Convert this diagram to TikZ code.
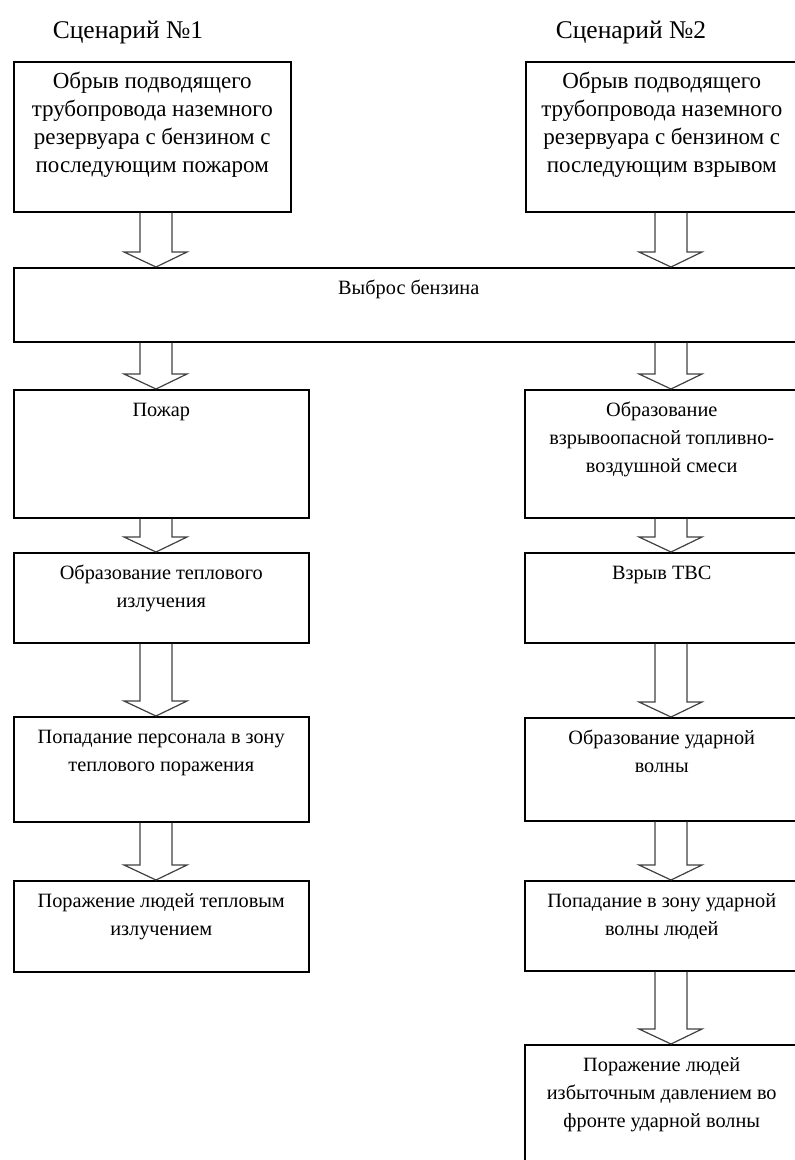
\documentclass[tikz,border=0pt]{standalone}
\usepackage{fontspec}
\setmainfont{Liberation Serif}
\usetikzlibrary{calc}

\newcommand{\boxtext}[4][0]{\parbox[c][#3pt][t]{#2pt}{\centering\rule{0pt}{27pt}#4}\hspace*{#1pt}}
\newcommand{\flowarrow}[3]{%
\draw[flowarr] let \p1=(#1.south -| #3), \p2=(#2.north -| #3) in
 (\x1-16pt,\y1) -- (\x1-16pt,\y2+15pt) -- (\x1-32pt,\y2+15pt) -- (\x2,\y2)
 -- (\x1+31pt,\y2+15pt) -- (\x1+16pt,\y2+15pt) -- (\x1+16pt,\y1);}

\begin{document}
\begin{tikzpicture} [x = 1pt, y = -1pt,
 every node/.style = {font = \fontsize{20.3}{28}\selectfont},
 lead/.style = {font = \fontsize{23}{28}\selectfont},
 title/.style = {font = \fontsize{25.5}{30}\selectfont},
 box/.style = {draw, line width = 1.5pt, inner sep = 0pt, anchor = north west},
 flowarr/.style = {draw = black!75, line width = 1.2pt}]
\useasboundingbox (0, 0) rectangle (795, 1160);
\clip (0, 0) rectangle (795, 1160);
\coordinate (axisL) at (156, 0);
\coordinate (axisR) at (671, 0);
\node[title] (titleOne) at (128, 32){Сценарий №1};
\node[title] (titleTwo) at (631, 32){Сценарий №2};
\node[box, lead] (breakFire) at (13, 61){\boxtext{277}{150}{\rule{0pt}{2pt}Обрыв подводящего\\трубопровода наземного\\резервуара с бензином с\\последующим пожаром}};
\node[box, lead] (breakBlast) at (525, 61){\boxtext[40]{272}{150}{\rule{0pt}{2pt}Обрыв подводящего\\трубопровода наземного\\резервуара с бензином с\\последующим взрывом}};
\node[box] (spill) at (13, 267){\boxtext[40]{790}{74}{Выброс бензина}};
\node[box] (fire) at (13, 389){\boxtext{295}{128}{Пожар}};
\node[box] (heat) at (13, 552){\boxtext{295}{90}{Образование теплового\\излучения}};
\node[box] (heatZone) at (13, 716){\boxtext{295}{105}{Попадание персонала в зону\\теплового поражения}};
\node[box] (heatHarm) at (13, 880){\boxtext{295}{91}{Поражение людей тепловым\\излучением}};
\node[box] (cloud) at (524, 389){\boxtext[40]{274}{128}{Образование\\взрывоопасной топливно-\\воздушной смеси}};
\node[box] (blast) at (524, 552){\boxtext[40]{274}{90}{Взрыв ТВС}};
\node[box] (wave) at (524, 717){\boxtext[40]{274}{103}{Образование ударной\\волны}};
\node[box] (waveZone) at (524, 880){\boxtext[40]{274}{90}{Попадание в зону ударной\\волны людей}};
\node[box] (waveHarm) at (524, 1044){\boxtext[40]{274}{150}{Поражение людей\\избыточным давлением во\\фронте ударной волны}};
\flowarrow{breakFire}{spill}{axisL}
\flowarrow{spill}{fire}{axisL}
\flowarrow{fire}{heat}{axisL}
\flowarrow{heat}{heatZone}{axisL}
\flowarrow{heatZone}{heatHarm}{axisL}
\flowarrow{breakBlast}{spill}{axisR}
\flowarrow{spill}{cloud}{axisR}
\flowarrow{cloud}{blast}{axisR}
\flowarrow{blast}{wave}{axisR}
\flowarrow{wave}{waveZone}{axisR}
\flowarrow{waveZone}{waveHarm}{axisR}
\end{tikzpicture}
\end{document}
